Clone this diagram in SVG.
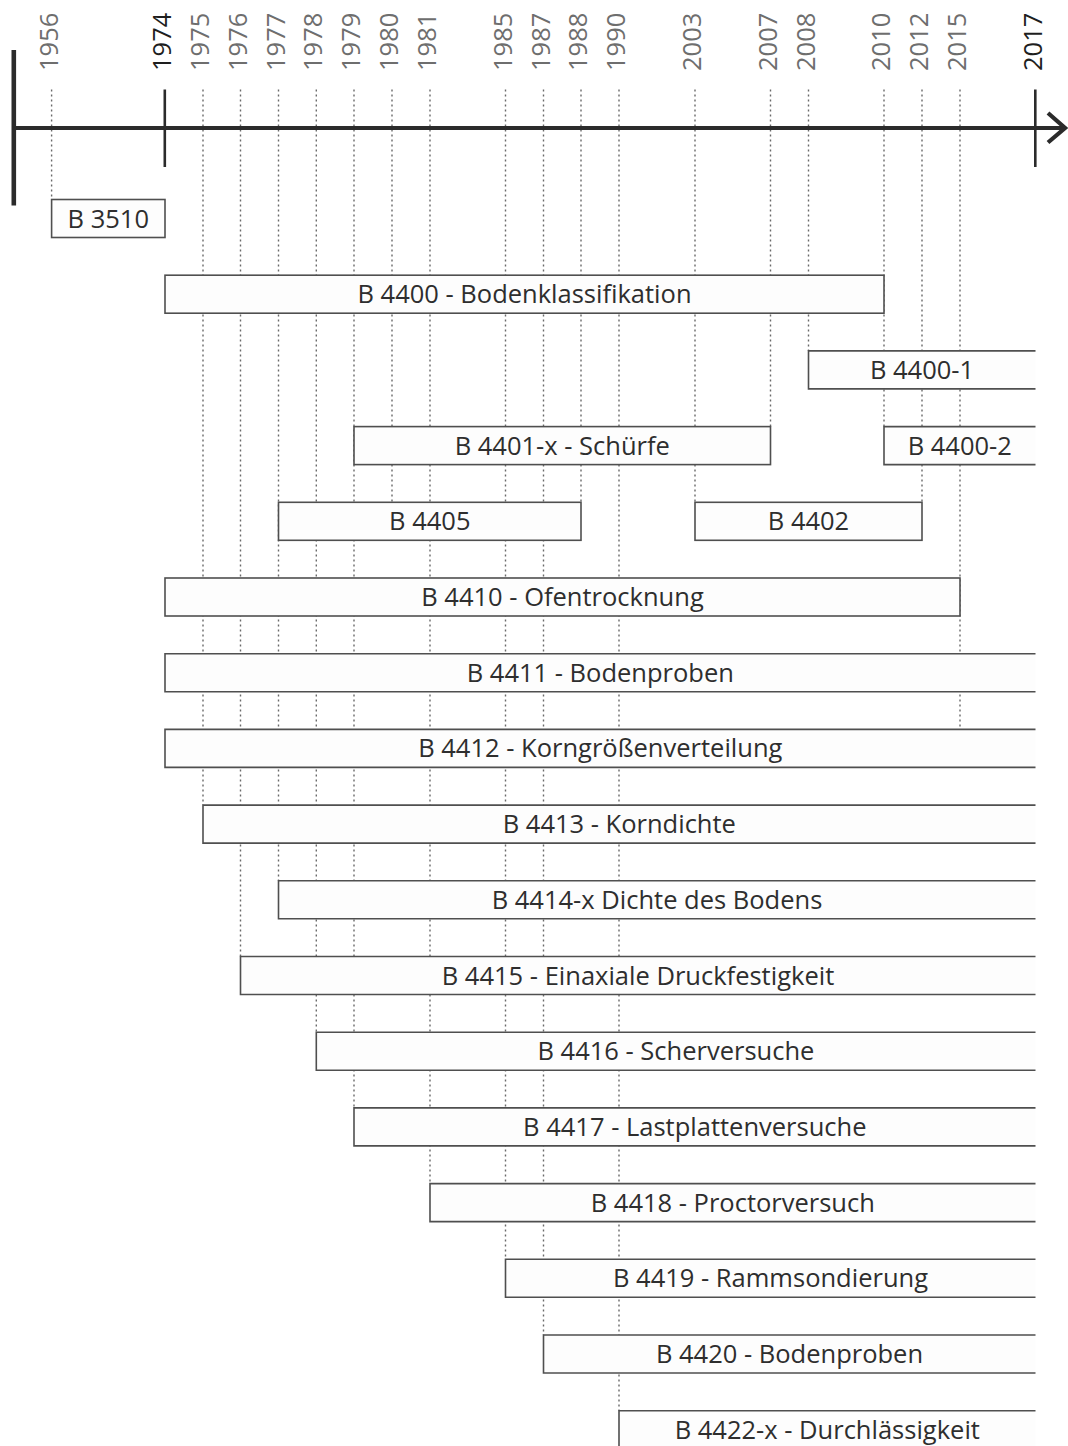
<svg xmlns="http://www.w3.org/2000/svg" width="1068" height="1446" viewBox="0 0 1068 1446">
<style>
.bg{fill:#ffffff}
.grid{stroke:#6a6a6a;stroke-width:1.4;stroke-dasharray:2 3;fill:none}
.axis{stroke:#2b2b2b;fill:none;stroke-linecap:butt}
.yr{font-family:"Open Sans","Liberation Sans",sans-serif;font-size:25.5px;fill:#6e6e6e}
.yrk{font-family:"Open Sans","Liberation Sans",sans-serif;font-size:25.5px;fill:#1e1e1e}
.bf{fill:#fdfdfd;stroke:none}
.be{fill:none;stroke:#4f4f4f;stroke-width:1.6}
.lb{font-family:"Open Sans","Liberation Sans",sans-serif;font-size:25.5px;fill:#2e2e2e;text-anchor:middle}
</style>
<rect class="bg" x="0" y="0" width="1068" height="1446"/>
<g id="year-labels">
<text class="yr" transform="translate(57.5,71) rotate(-90)">1956</text>
<text class="yrk" transform="translate(171,71) rotate(-90)">1974</text>
<text class="yr" transform="translate(209,71) rotate(-90)">1975</text>
<text class="yr" transform="translate(246.5,71) rotate(-90)">1976</text>
<text class="yr" transform="translate(284.5,71) rotate(-90)">1977</text>
<text class="yr" transform="translate(322.3,71) rotate(-90)">1978</text>
<text class="yr" transform="translate(360,71) rotate(-90)">1979</text>
<text class="yr" transform="translate(398,71) rotate(-90)">1980</text>
<text class="yr" transform="translate(436,71) rotate(-90)">1981</text>
<text class="yr" transform="translate(511.5,71) rotate(-90)">1985</text>
<text class="yr" transform="translate(549.5,71) rotate(-90)">1987</text>
<text class="yr" transform="translate(587,71) rotate(-90)">1988</text>
<text class="yr" transform="translate(625,71) rotate(-90)">1990</text>
<text class="yr" transform="translate(701,71) rotate(-90)">2003</text>
<text class="yr" transform="translate(776.5,71) rotate(-90)">2007</text>
<text class="yr" transform="translate(814.5,71) rotate(-90)">2008</text>
<text class="yr" transform="translate(890,71) rotate(-90)">2010</text>
<text class="yr" transform="translate(928,71) rotate(-90)">2012</text>
<text class="yr" transform="translate(966,71) rotate(-90)">2015</text>
<text class="yrk" transform="translate(1041.5,71) rotate(-90)">2017</text>
</g>
<g id="connectors">
<path class="grid" d="M51.6 89.5V199.5M203 89.5V805.1M240.5 89.5V956.5M278.5 89.5V880.8M316.3 89.5V1032.2M354 89.5V1107.9M392 89.5V502.3M430 89.5V1183.6M505.5 89.5V1259.3M543.5 89.5V1335M581 89.5V502.3M619 89.5V1410.7M695 89.5V502.3M770.5 89.5V426.6M808.5 89.5V350.9M884 89.5V426.6M922 89.5V502.3M960 89.5V729.4"/>
<g id="axis">
<line class="axis" x1="13.8" y1="128" x2="1064" y2="128" stroke-width="4.2"/>
<line class="axis" x1="13.8" y1="50" x2="13.8" y2="205.6" stroke-width="4.6"/>
<line class="axis" x1="164.8" y1="89.5" x2="164.8" y2="167" stroke-width="2.6"/>
<line class="axis" x1="1035.3" y1="89.5" x2="1035.3" y2="167" stroke-width="2.6"/>
<polyline class="axis" points="1048,113 1065,128 1048,142.5" stroke-width="4.2"/>
</g>
</g>
<g id="n-b3510"><rect class="bf" x="51.6" y="199.5" width="113.4" height="38"/><rect class="be" x="51.6" y="199.5" width="113.4" height="38"/><text class="lb" x="108.3" y="227.5">B 3510</text></g>
<g id="n-b4400"><rect class="bf" x="165" y="275.2" width="719" height="38"/><rect class="be" x="165" y="275.2" width="719" height="38"/><text class="lb" x="524.5" y="303.2">B 4400 - Bodenklassifikation</text></g>
<g id="n-b4400-1"><rect class="bf" x="808.5" y="350.9" width="227" height="38"/><path class="be" d="M1035.5 350.9H808.5V388.9H1035.5"/><text class="lb" x="922" y="378.9">B 4400-1</text></g>
<g id="n-b4401x"><rect class="bf" x="354" y="426.6" width="416.5" height="38"/><rect class="be" x="354" y="426.6" width="416.5" height="38"/><text class="lb" x="562.3" y="454.6">B 4401-x - Schürfe</text></g>
<g id="n-b4400-2"><rect class="bf" x="884" y="426.6" width="151.5" height="38"/><path class="be" d="M1035.5 426.6H884V464.6H1035.5"/><text class="lb" x="959.8" y="454.6">B 4400-2</text></g>
<g id="n-b4405"><rect class="bf" x="278.5" y="502.3" width="302.5" height="38"/><rect class="be" x="278.5" y="502.3" width="302.5" height="38"/><text class="lb" x="429.8" y="530.3">B 4405</text></g>
<g id="n-b4402"><rect class="bf" x="695" y="502.3" width="227" height="38"/><rect class="be" x="695" y="502.3" width="227" height="38"/><text class="lb" x="808.5" y="530.3">B 4402</text></g>
<g id="n-b4410"><rect class="bf" x="165" y="578" width="795" height="38"/><rect class="be" x="165" y="578" width="795" height="38"/><text class="lb" x="562.5" y="606">B 4410 - Ofentrocknung</text></g>
<g id="n-b4411"><rect class="bf" x="165" y="653.7" width="870.5" height="38"/><path class="be" d="M1035.5 653.7H165V691.7H1035.5"/><text class="lb" x="600.3" y="681.7">B 4411 - Bodenproben</text></g>
<g id="n-b4412"><rect class="bf" x="165" y="729.4" width="870.5" height="38"/><path class="be" d="M1035.5 729.4H165V767.4H1035.5"/><text class="lb" x="600.3" y="757.4">B 4412 - Korngrößenverteilung</text></g>
<g id="n-b4413"><rect class="bf" x="203" y="805.1" width="832.5" height="38"/><path class="be" d="M1035.5 805.1H203V843.1H1035.5"/><text class="lb" x="619.3" y="833.1">B 4413 - Korndichte</text></g>
<g id="n-b4414x"><rect class="bf" x="278.5" y="880.8" width="757" height="38"/><path class="be" d="M1035.5 880.8H278.5V918.8H1035.5"/><text class="lb" x="657" y="908.8">B 4414-x Dichte des Bodens</text></g>
<g id="n-b4415"><rect class="bf" x="240.5" y="956.5" width="795" height="38"/><path class="be" d="M1035.5 956.5H240.5V994.5H1035.5"/><text class="lb" x="638" y="984.5">B 4415 - Einaxiale Druckfestigkeit</text></g>
<g id="n-b4416"><rect class="bf" x="316.3" y="1032.2" width="719.2" height="38"/><path class="be" d="M1035.5 1032.2H316.3V1070.2H1035.5"/><text class="lb" x="675.9" y="1060.2">B 4416 - Scherversuche</text></g>
<g id="n-b4417"><rect class="bf" x="354" y="1107.9" width="681.5" height="38"/><path class="be" d="M1035.5 1107.9H354V1145.9H1035.5"/><text class="lb" x="694.8" y="1135.9">B 4417 - Lastplattenversuche</text></g>
<g id="n-b4418"><rect class="bf" x="430" y="1183.6" width="605.5" height="38"/><path class="be" d="M1035.5 1183.6H430V1221.6H1035.5"/><text class="lb" x="732.8" y="1211.6">B 4418 - Proctorversuch</text></g>
<g id="n-b4419"><rect class="bf" x="505.5" y="1259.3" width="530" height="38"/><path class="be" d="M1035.5 1259.3H505.5V1297.3H1035.5"/><text class="lb" x="770.5" y="1287.3">B 4419 - Rammsondierung</text></g>
<g id="n-b4420"><rect class="bf" x="543.5" y="1335" width="492" height="38"/><path class="be" d="M1035.5 1335H543.5V1373H1035.5"/><text class="lb" x="789.5" y="1363">B 4420 - Bodenproben</text></g>
<g id="n-b4422x"><rect class="bf" x="619" y="1410.7" width="416.5" height="38"/><path class="be" d="M1035.5 1410.7H619V1448.7H1035.5"/><text class="lb" x="827.3" y="1438.7">B 4422-x - Durchlässigkeit</text></g>
</svg>
